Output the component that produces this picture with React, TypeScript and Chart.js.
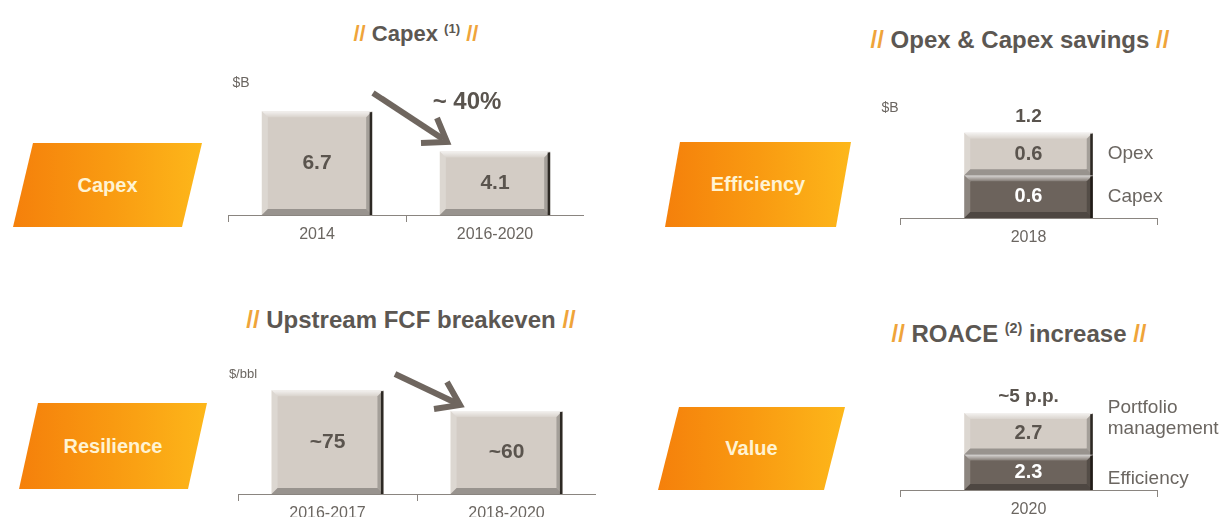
import React, { useEffect, useRef } from 'react';
import { Chart, registerables } from 'chart.js';
Chart.register(...registerables);

// ---------- data ----------
const capexCategories = ['2014', '2016-2020'];
const capexValues = [6.7, 4.1];
const capexLabels = ['6.7', '4.1'];

const savingsCategories = ['2018'];
const savingsCapex = [0.6];
const savingsOpex = [0.6];
const savingsCapexLabels = ['0.6'];
const savingsOpexLabels = ['0.6'];
const savingsTotal = ['1.2'];
const savingsSeries = ['Capex', 'Opex'];

const breakevenCategories = ['2016-2017', '2018-2020'];
const breakevenValues = [75, 60];
const breakevenLabels = ['~75', '~60'];

const roaceCategories = ['2020'];
const roaceEfficiency = [2.3];
const roacePortfolio = [2.7];
const roaceEfficiencyLabels = ['2.3'];
const roacePortfolioLabels = ['2.7'];
const roaceTotal = ['~5 p.p.'];
const roaceSeries = ['Efficiency', 'Portfolio\nmanagement'];

// ---------- styles ----------
const FONT = '"Liberation Sans", Arial, Helvetica, sans-serif';
const LIGHT = '#d3ccc5';
const DARK = '#6c635c';
const TEXT = '#5a544e';
const TICK = '#6b6661';
const AXIS = '#8a8580';
const ORANGE_SLASH = '#efa43a';

type Series = {
  data: number[];
  color: string;
  labels: string[];
  labelColor: string;
  name?: string;
  nameDy?: number;
};

type Spec = {
  left: number; top: number; width: number; height: number;
  padL: number; padR: number; yMax: number; barPct: number; stacked: boolean;
  categories: string[];
  series: Series[];
  valueFont: string;
  total?: string[];
};

function poly(ctx: CanvasRenderingContext2D, pts: number[][], fill: string | CanvasGradient) {
  ctx.beginPath();
  ctx.moveTo(pts[0][0], pts[0][1]);
  for (let i = 1; i < pts.length; i++) ctx.lineTo(pts[i][0], pts[i][1]);
  ctx.closePath();
  ctx.fillStyle = fill;
  ctx.fill();
}

function makePlugin(spec: Spec) {
  return {
    id: 'bevelLabels',
    afterDatasetsDraw(chart: any) {
      const ctx: CanvasRenderingContext2D = chart.ctx;
      const topOf: number[] = [];
      chart.data.datasets.forEach((_ds: any, i: number) => {
        const meta = chart.getDatasetMeta(i);
        const s = spec.series[i];
        meta.data.forEach((el: any, j: number) => {
          const { x, y, base, width } = el.getProps(['x', 'y', 'base', 'width'], true);
          const l = x - width / 2, r = x + width / 2;
          const t = Math.min(y, base), b = Math.max(y, base);
          const e = 6;
          ctx.save();
          const gTop = ctx.createLinearGradient(0, t, 0, t + e);
          gTop.addColorStop(0, 'rgba(255,255,255,0.75)');
          gTop.addColorStop(1, 'rgba(255,255,255,0.15)');
          poly(ctx, [[l, t], [r, t], [r - e, t + e], [l + e, t + e]], gTop);
          poly(ctx, [[l, t], [l + e, t + e], [l + e, b - e], [l, b]], 'rgba(255,255,255,0.22)');
          poly(ctx, [[r, t], [r, b], [r - e, b - e], [r - e, t + e]], 'rgba(0,0,0,0.22)');
          poly(ctx, [[l, b], [r, b], [r - e, b - e], [l + e, b - e]], 'rgba(0,0,0,0.28)');
          ctx.fillStyle = 'rgba(25,20,15,0.85)';
          ctx.fillRect(r - 2.5, t + 1, 2.5, b - t - 1);
          ctx.restore();

          // value label
          ctx.save();
          ctx.font = spec.valueFont;
          ctx.fillStyle = s.labelColor;
          ctx.textAlign = 'center';
          ctx.textBaseline = 'middle';
          ctx.fillText(s.labels[j], x, (t + b) / 2);
          ctx.restore();

          // series name to the right
          if (s.name) {
            ctx.save();
            ctx.font = `19px ${FONT}`;
            ctx.fillStyle = TICK;
            ctx.textAlign = 'left';
            ctx.textBaseline = 'middle';
            const lines = s.name.split('\n');
            const lh = 21;
            const cy = (t + b) / 2 + (s.nameDy || 0);
            lines.forEach((ln, k) => {
              ctx.fillText(ln, r + 15, cy - ((lines.length - 1) * lh) / 2 + k * lh);
            });
            ctx.restore();
          }
          topOf[j] = topOf[j] === undefined ? t : Math.min(topOf[j], t);
        });
      });
      if (spec.total) {
        const meta = chart.getDatasetMeta(0);
        meta.data.forEach((el: any, j: number) => {
          ctx.save();
          ctx.font = `bold 19px ${FONT}`;
          ctx.fillStyle = TEXT;
          ctx.textAlign = 'center';
          ctx.textBaseline = 'middle';
          ctx.fillText(spec.total![j], el.x, topOf[j] - 16);
          ctx.restore();
        });
      }
    },
  };
}

function MiniChart({ spec }: { spec: Spec }) {
  const ref = useRef<HTMLCanvasElement | null>(null);
  useEffect(() => {
    if (!ref.current) return;
    const chart = new Chart(ref.current, {
      type: 'bar',
      data: {
        labels: spec.categories,
        datasets: spec.series.map((s) => ({
          data: s.data,
          backgroundColor: s.color,
          borderWidth: 0,
          barPercentage: spec.barPct,
          categoryPercentage: 1,
        })),
      },
      options: {
        responsive: false,
        animation: false,
        events: [],
        layout: { padding: { left: spec.padL, right: spec.padR, top: 0, bottom: 0 } },
        plugins: { legend: { display: false }, tooltip: { enabled: false }, title: { display: false } },
        scales: {
          x: {
            stacked: spec.stacked,
            offset: true,
            grid: { offset: true, drawOnChartArea: false, drawTicks: true, tickLength: 7, color: AXIS, lineWidth: 1 },
            border: { display: true, color: AXIS, width: 1 },
            ticks: { color: TICK, font: { family: FONT, size: 16 }, padding: 3, maxRotation: 0, autoSkip: false },
            afterFit: (s: any) => { s.height = 30; },
          },
          y: { display: false, min: 0, max: spec.yMax, stacked: spec.stacked },
        },
      } as any,
      plugins: [makePlugin(spec)],
    });
    return () => chart.destroy();
  }, [spec]);
  return (
    <canvas
      ref={ref}
      width={spec.width}
      height={spec.height}
      style={{ position: 'absolute', left: spec.left, top: spec.top, width: spec.width, height: spec.height }}
    />
  );
}

const capexSpec: Spec = {
  left: 228, top: 60, width: 356, height: 185, padL: 0, padR: 0, yMax: 10, barPct: 0.62, stacked: false,
  categories: capexCategories,
  series: [{ data: capexValues, color: LIGHT, labels: capexLabels, labelColor: TEXT }],
  valueFont: `bold 21px ${FONT}`,
};

const savingsSpec: Spec = {
  left: 860, top: 90, width: 366, height: 158, padL: 40, padR: 69, yMax: 1.8, barPct: 0.5, stacked: true,
  categories: savingsCategories,
  series: [
    { data: savingsCapex, color: DARK, labels: savingsCapexLabels, labelColor: '#ffffff', name: savingsSeries[0] },
    { data: savingsOpex, color: LIGHT, labels: savingsOpexLabels, labelColor: TEXT, name: savingsSeries[1] },
  ],
  valueFont: `bold 20px ${FONT}`,
  total: savingsTotal,
};

const breakevenSpec: Spec = {
  left: 238, top: 350, width: 358, height: 174, padL: 0, padR: 0, yMax: 104, barPct: 0.625, stacked: false,
  categories: breakevenCategories,
  series: [{ data: breakevenValues, color: LIGHT, labels: breakevenLabels, labelColor: TEXT }],
  valueFont: `bold 21px ${FONT}`,
};

const roaceSpec: Spec = {
  left: 860, top: 370, width: 366, height: 150, padL: 40, padR: 69, yMax: 7.8, barPct: 0.5, stacked: true,
  categories: roaceCategories,
  series: [
    { data: roaceEfficiency, color: DARK, labels: roaceEfficiencyLabels, labelColor: '#ffffff', name: roaceSeries[0], nameDy: 6 },
    { data: roacePortfolio, color: LIGHT, labels: roacePortfolioLabels, labelColor: TEXT, name: roaceSeries[1], nameDy: -16 },
  ],
  valueFont: `bold 20px ${FONT}`,
  total: roaceTotal,
};

function Para({ left, top, width, height, skew, text }: any) {
  return (
    <div
      style={{
        position: 'absolute', left, top, width, height,
        clipPath: `polygon(${skew}px 0, 100% 0, calc(100% - ${skew}px) 100%, 0 100%)`,
        background: 'linear-gradient(to right, #f5800b 0%, #f99a11 50%, #fdb71a 100%)',
        display: 'flex', alignItems: 'center', justifyContent: 'center',
        color: '#fff3d2', font: `bold 20px ${FONT}`,
      }}
    >
      {text}
    </div>
  );
}

function Title({ cx, cy, size, children }: any) {
  return (
    <div
      style={{
        position: 'absolute', left: cx - 300, width: 600, top: cy - size / 2, height: size,
        lineHeight: `${size}px`, textAlign: 'center', font: `bold ${size}px ${FONT}`, color: '#5c5752',
        whiteSpace: 'nowrap',
      }}
    >
      {children}
    </div>
  );
}

const Sl = () => <span style={{ color: ORANGE_SLASH }}>//</span>;
const Sup = ({ t }: { t: string }) => (
  <span style={{ fontSize: '0.6em', verticalAlign: 'super', lineHeight: 0 }}>{t}</span>
);

function Txt({ x, y, size, bold, color, children, align }: any) {
  const a = align || 'center';
  return (
    <div
      style={{
        position: 'absolute', left: a === 'center' ? x - 100 : x, width: a === 'center' ? 200 : 'auto',
        top: y - size / 2, height: size, lineHeight: `${size}px`, textAlign: a,
        font: `${bold ? 'bold ' : ''}${size}px ${FONT}`, color, whiteSpace: 'nowrap',
      }}
    >
      {children}
    </div>
  );
}

export default function App() {
  return (
    <div style={{ position: 'fixed', left: 0, top: 0, width: 1226, height: 517, overflow: 'hidden', background: '#ffffff' }}>
      <Title cx={416} cy={32} size={22}><Sl /> Capex <Sup t="(1)" /> <Sl /></Title>
      <Title cx={1020} cy={38} size={24}><Sl /> Opex &amp; Capex savings <Sl /></Title>
      <Title cx={411} cy={318} size={24}><Sl /> Upstream FCF breakeven <Sl /></Title>
      <Title cx={1019} cy={332} size={24}><Sl /> ROACE <Sup t="(2)" /> increase <Sl /></Title>

      <Para left={13} top={143} width={189} height={84} skew={20} text="Capex" />
      <Para left={665} top={142} width={186} height={85} skew={15} text="Efficiency" />
      <Para left={19} top={403} width={188} height={86} skew={19} text="Resilience" />
      <Para left={658} top={407} width={187} height={83} skew={21} text="Value" />

      <MiniChart spec={capexSpec} />
      <MiniChart spec={savingsSpec} />
      <MiniChart spec={breakevenSpec} />
      <MiniChart spec={roaceSpec} />

      <Txt x={241} y={81} size={14} color={TICK}>$B</Txt>
      <Txt x={890} y={106} size={14} color={TICK}>$B</Txt>
      <Txt x={243} y={372} size={13} color={TICK}>$/bbl</Txt>
      <Txt x={467} y={99} size={24} bold color={TEXT}>~ 40%</Txt>

      <svg width={1226} height={517} style={{ position: 'absolute', left: 0, top: 0, pointerEvents: 'none' }}>
        <g stroke="#6f665f" strokeWidth={6} fill="none" strokeLinejoin="miter">
          <line x1={373} y1={93} x2={443} y2={139} />
          <polyline points="421,143 447,142 437,118" />
          <line x1={395} y1={374} x2={456} y2={403} />
          <polyline points="434,409 460,405 447,382" />
        </g>
      </svg>
    </div>
  );
}
